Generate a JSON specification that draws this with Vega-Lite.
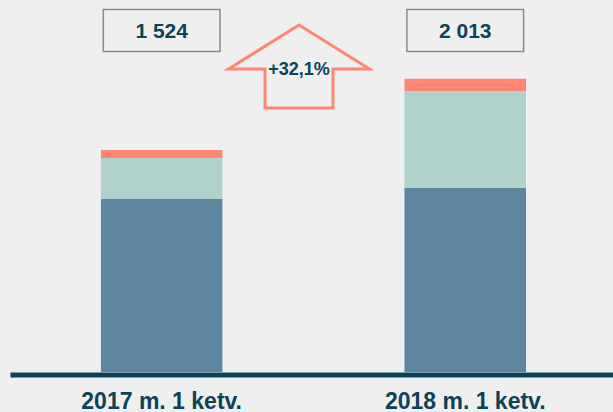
{
  "$schema": "https://vega.github.io/schema/vega-lite/v6.json",
  "width": 603,
  "height": 372,
  "autosize": {"type": "none"},
  "padding": {"left": 10, "top": 0, "right": 0, "bottom": 40},
  "background": "#efefef",
  "config": {"view": {"stroke": null}, "font": "Liberation Sans"},
  "datasets": {
    "bars": [
      {"cat": "2017 m. 1 ketv.", "seg": "A", "ord": 1, "value": 1188},
      {"cat": "2017 m. 1 ketv.", "seg": "B", "ord": 2, "value": 281},
      {"cat": "2017 m. 1 ketv.", "seg": "C", "ord": 3, "value": 55},
      {"cat": "2018 m. 1 ketv.", "seg": "A", "ord": 1, "value": 1263},
      {"cat": "2018 m. 1 ketv.", "seg": "B", "ord": 2, "value": 666},
      {"cat": "2018 m. 1 ketv.", "seg": "C", "ord": 3, "value": 84}
    ],
    "totals": [
      {"cat": "2017 m. 1 ketv.", "label": "1 524"},
      {"cat": "2018 m. 1 ketv.", "label": "2 013"}
    ],
    "change": [
      {"cat": "2017 m. 1 ketv.", "label": "+32,1%"}
    ]
  },
  "layer": [
    {
      "data": {"name": "bars"},
      "mark": {"type": "bar"},
      "encoding": {
        "x": {
          "field": "cat", "type": "nominal",
          "scale": {"paddingInner": 0.5997, "paddingOuter": 0.293, "align": 0.511},
          "axis": {
            "title": null, "labelAngle": 0, "ticks": false,
            "domainColor": "#0b4357", "domainWidth": 5, "offset": 2.5,
            "labelFont": "Liberation Sans", "labelFontSize": 23, "labelFontWeight": "bold",
            "labelColor": "#0b4357", "labelPadding": 16, "labelDx": -14
          }
        },
        "y": {
          "field": "value", "type": "quantitative", "stack": "zero",
          "scale": {"domain": [0, 2554], "nice": false, "zero": true},
          "axis": null
        },
        "color": {
          "field": "seg", "type": "nominal", "legend": null,
          "scale": {"domain": ["A", "B", "C"], "range": ["#5e86a0", "#b1d2ca", "#fe8673"]}
        },
        "order": {"field": "ord", "type": "quantitative"}
      }
    },
    {
      "data": {"name": "totals"},
      "mark": {"type": "bar", "fill": "transparent", "stroke": "#8a8a8a", "strokeWidth": 1.5, "width": {"band": 0.96}},
      "encoding": {
        "x": {"field": "cat", "type": "nominal"},
        "y": {"datum": 2488, "type": "quantitative"},
        "y2": {"datum": 2200}
      }
    },
    {
      "data": {"name": "totals"},
      "mark": {"type": "text", "font": "Liberation Sans", "fontSize": 21, "fontWeight": "bold", "color": "#0b4357", "baseline": "middle", "align": "center"},
      "encoding": {
        "x": {"field": "cat", "type": "nominal"},
        "y": {"datum": 2334, "type": "quantitative"},
        "text": {"field": "label"}
      }
    },
    {
      "data": {"name": "change"},
      "mark": {
        "type": "point",
        "shape": "M0,-0.589 L1,0.035 L0.482,0.035 L0.482,0.589 L-0.482,0.589 L-0.482,0.035 L-1,0.035 Z",
        "size": 19881, "filled": false, "stroke": "#fe8673", "strokeWidth": 3, "opacity": 1
      },
      "encoding": {
        "x": {"field": "cat", "type": "nominal", "bandPosition": 1.63},
        "y": {"datum": 2097, "type": "quantitative"}
      }
    },
    {
      "data": {"name": "change"},
      "mark": {"type": "text", "font": "Liberation Sans", "fontSize": 18, "fontWeight": "bold", "color": "#0b4357", "baseline": "middle", "align": "center"},
      "encoding": {
        "x": {"field": "cat", "type": "nominal", "bandPosition": 1.63},
        "y": {"datum": 2073, "type": "quantitative"},
        "text": {"field": "label"}
      }
    }
  ]
}
